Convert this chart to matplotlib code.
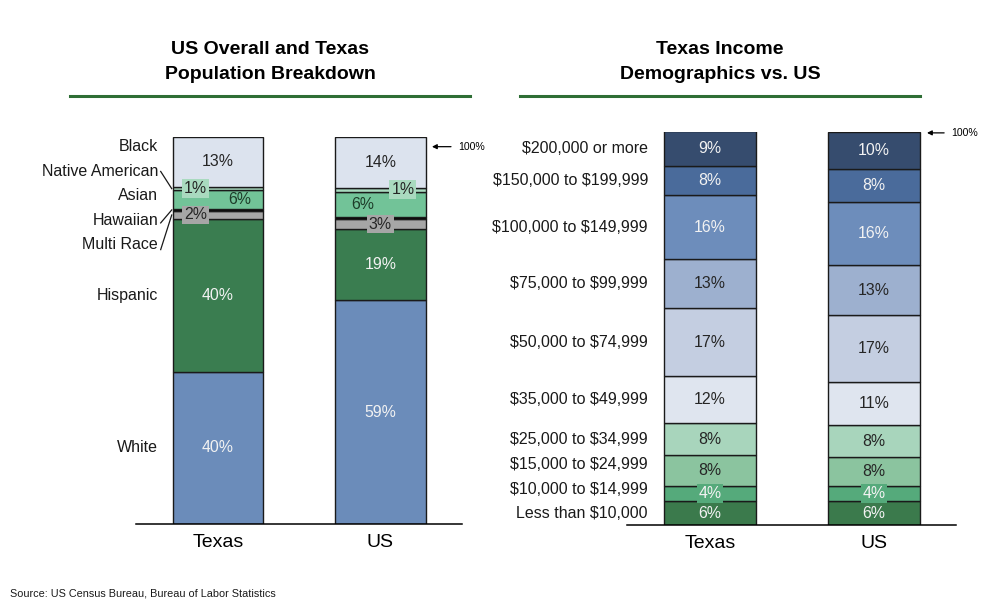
import numpy as np
import matplotlib
matplotlib.use('Agg')
import matplotlib.pyplot as plt
from matplotlib.lines import Line2D

plt.rcParams['font.family'] = ['Liberation Sans', 'DejaVu Sans']

# population breakdown (bottom to top)
race_groups = ['White', 'Hispanic', 'Multi Race', 'Hawaiian', 'Asian', 'Native American', 'Black']
race_texas = [39.3, 39.4, 2.3, 0.3, 4.9, 0.9, 12.9]
race_us = [57.8, 18.3, 2.8, 0.3, 6.7, 0.9, 13.3]
race_texas_labels = ['40%', '40%', '2%', '', '6%', '1%', '13%']
race_us_labels = ['59%', '19%', '3%', '', '6%', '1%', '14%']

# income breakdown (bottom to top)
income_groups = ['Less than $10,000', '$10,000 to $14,999', '$15,000 to $24,999',
                 '$25,000 to $34,999', '$35,000 to $49,999', '$50,000 to $74,999',
                 '$75,000 to $99,999', '$100,000 to $149,999', '$150,000 to $199,999',
                 '$200,000 or more']
income_texas = [6.1, 3.8, 7.9, 8.1, 11.9, 17.4, 12.5, 16.1, 7.4, 9.0]
income_us = [6.1, 3.8, 7.4, 8.1, 11.0, 16.9, 12.8, 16.1, 8.3, 9.5]
income_texas_labels = ['6%', '4%', '8%', '8%', '12%', '17%', '13%', '16%', '8%', '9%']
income_us_labels = ['6%', '4%', '8%', '8%', '11%', '17%', '13%', '16%', '8%', '10%']

places = ['Texas', 'US']

race_colors = ['#6B8CBA', '#3A7D50', '#A6A6A6', '#000000', '#72C398', '#A9DABF', '#DCE3EE']
race_text = ['#F2F2F2', '#F2F2F2', '#262626', '#262626', '#1E3D2A', '#262626', '#262626']
income_colors = ['#3B7A4C', '#55AA7B', '#8BC49F', '#A8D5BC', '#DFE5EF',
                 '#C4CEE1', '#9DB0CF', '#6D8DBB', '#4A6B9B', '#364C6E']
income_text = ['#F2F2F2', '#F2F2F2', '#262626', '#262626', '#262626',
               '#262626', '#262626', '#F2F2F2', '#F2F2F2', '#F2F2F2']

fig = plt.figure(figsize=(10.08, 6.10), dpi=100)
W, H = 1008, 610


def make_ax(x0, x1, ybase, ytop):
    ax = fig.add_axes([x0 / W, (H - ybase) / H, (x1 - x0) / W, (ybase - ytop) / H])
    for s in ['top', 'right', 'left']:
        ax.spines[s].set_visible(False)
    ax.spines['bottom'].set_linewidth(1.1)
    ax.set_yticks([])
    ax.set_ylim(0, 100)
    ax.tick_params(axis='x', length=0, pad=7, labelsize=14)
    return ax


def stack(ax, vals_list, labels_list, colors, tcolors, width, dx_list=None, boxed=()):
    for i, (vals, labs) in enumerate(zip(vals_list, labels_list)):
        bottoms = np.concatenate([[0], np.cumsum(vals)[:-1]])
        ax.bar([i] * len(vals), vals, bottom=bottoms, width=width, color=colors,
               edgecolor='#1A1A1A', linewidth=1.0, zorder=2)
        for k, (v, b, lab) in enumerate(zip(vals, bottoms, labs)):
            if not lab:
                continue
            dx = dx_list[i][k] if dx_list else 0
            bb = None
            if k in boxed:
                bb = dict(boxstyle='square,pad=0.12', fc=colors[k], ec='none')
            ax.text(i + dx, b + v / 2, lab, ha='center', va='center', fontsize=11.4,
                    color=tcolors[k], bbox=bb, zorder=3)


# ---- left chart
ax1 = make_ax(136, 462, 524, 137)
ax1.set_xlim(-0.505, 1.502)
race_dx = [[0, 0, -0.14, 0, 0.135, -0.14, 0],
           [0, 0, 0, 0, -0.108, 0.138, 0]]
stack(ax1, [race_texas, race_us], [race_texas_labels, race_us_labels],
      race_colors, race_text, 0.557, race_dx, boxed=(2, 5))
ax1.set_xticks([0, 1], places)

tx_bottoms = np.concatenate([[0], np.cumsum(race_texas)[:-1]])
tx_mid = tx_bottoms + np.array(race_texas) / 2
race_label_y = [tx_mid[0], tx_mid[1], 72.1, 78.4, 84.8, 91.0, 97.5]
for name, y in zip(race_groups, race_label_y):
    ax1.text(-0.369, y, name, ha='right', va='center', fontsize=11.5, color='#1A1A1A')
# leader lines for the thin segments
for k, y0 in [(5, 91.1), (3, 77.8), (2, 70.9)]:
    ax1.plot([-0.353, -0.285], [y0, tx_mid[k]], color='#1A1A1A', lw=0.9, clip_on=False)

ax1.annotate('100%', xy=(1.317, 97.5), xytext=(1.477, 97.5), ha='left', va='center',
             fontsize=7.6, annotation_clip=False,
             arrowprops=dict(arrowstyle='-|>', color='black', lw=0.9,
                             mutation_scale=7, shrinkA=3, shrinkB=0))

# ---- right chart
ax2 = make_ax(627, 956, 525, 131.7)
ax2.set_xlim(-0.506, 1.5)
stack(ax2, [income_texas, income_us], [income_texas_labels, income_us_labels],
      income_colors, income_text, 0.561, boxed=(1,))
ax2.set_xticks([0, 1], places)

in_bottoms = np.concatenate([[0], np.cumsum(income_texas)[:-1]])
in_mid = in_bottoms + np.array(income_texas) / 2
nudge = [0, 1.0, 1.6, 0, 0, 0, 0, 0, 0, 0]
for name, y, n in zip(income_groups, in_mid, nudge):
    ax2.text(-0.378, y + n, name, ha='right', va='center', fontsize=11.5,
             color='#1A1A1A', parse_math=False)

ax2.annotate('100%', xy=(1.323, 99.7), xytext=(1.47, 99.7), ha='left', va='center',
             fontsize=7.6, annotation_clip=False,
             arrowprops=dict(arrowstyle='-|>', color='black', lw=0.9,
                             mutation_scale=7, shrinkA=3, shrinkB=0))

# ---- titles
for cx, lines, x0, x1 in [(270, ['US Overall and Texas', 'Population Breakdown'], 70, 470),
                          (720, ['Texas Income', 'Demographics vs. US'], 520, 920)]:
    fig.text(cx / W, 1 - 49 / H, lines[0], ha='center', va='center',
             fontsize=14, fontweight='bold', color='black')
    fig.text(cx / W, 1 - 74.5 / H, lines[1], ha='center', va='center',
             fontsize=14, fontweight='bold', color='black')
    fig.add_artist(Line2D([x0 / W, x1 / W], [1 - 96 / H, 1 - 96 / H],
                          color='#2E6E35', lw=2.2))

fig.text(10 / W, 1 - 593 / H, 'Source: US Census Bureau, Bureau of Labor Statistics',
         ha='left', va='center', fontsize=7.8, color='#1A1A1A')

fig.savefig('out.png', dpi=100)
